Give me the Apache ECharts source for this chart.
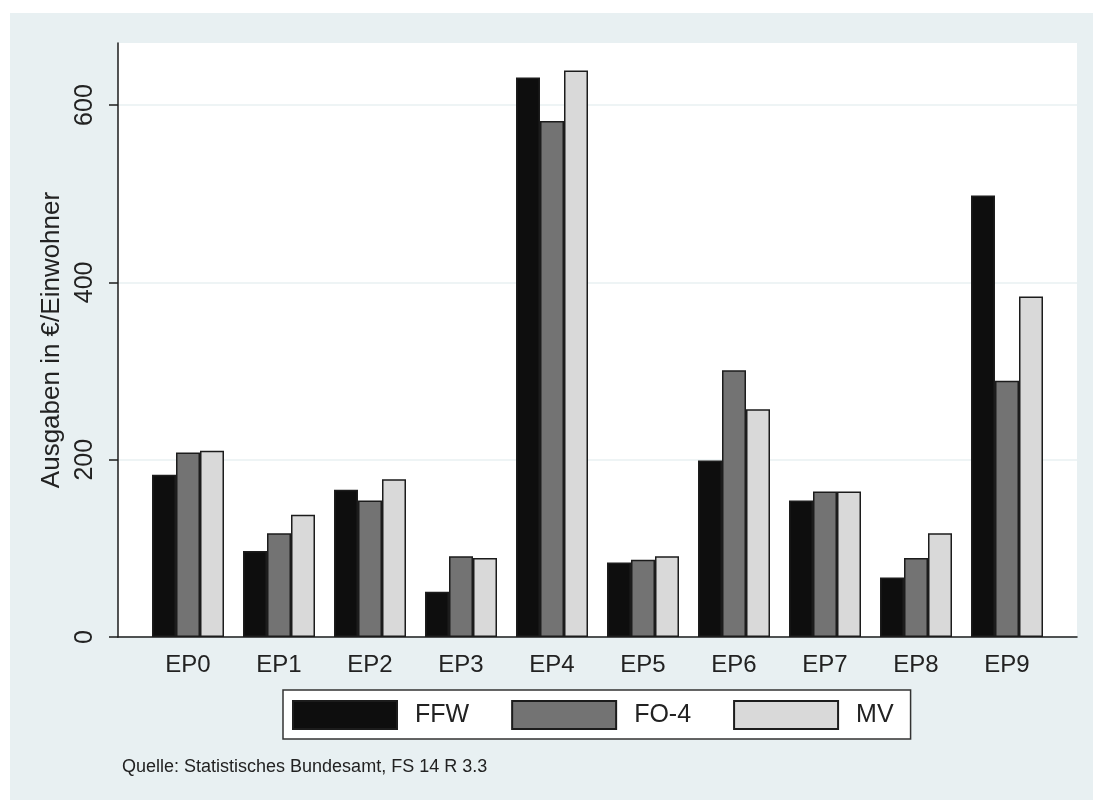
<!DOCTYPE html>
<html>
<head>
<meta charset="utf-8">
<script src="https://cdn.jsdelivr.net/npm/echarts@6/dist/echarts.min.js"></script>
<style>
html,body{margin:0;padding:0;background:#fff;}
#bg{position:absolute;left:10px;top:13px;width:1083px;height:787px;background:#e8f0f2;}
#c{position:absolute;left:0;top:0;width:1093px;height:800px;}
</style>
</head>
<body>
<div id="bg"></div>
<div id="c"></div>
<script>
const categories = ['EP0','EP1','EP2','EP3','EP4','EP5','EP6','EP7','EP8','EP9'];
const ffw  = [183, 97, 166, 51, 631, 84, 199, 154, 67, 498];
const fo4  = [208, 117, 154, 91, 582, 87, 301, 164, 89, 289];
const mv   = [210, 138, 178, 89, 639, 91, 257, 164, 117, 384];
const yTicks = [0, 200, 400, 600];
const seriesNames = ['FFW', 'FO-4', 'MV'];
const yTitle = 'Ausgaben in €/Einwohner';
const sourceNote = 'Quelle: Statistisches Bundesamt, FS 14 R 3.3';

const FONT = 'Liberation Sans, Arial, sans-serif';
const TXT = '#222';
const fills = ['#0e0e0e', '#737373', '#d9d9d9'];
const chart = echarts.init(document.getElementById('c'), null, {renderer: 'canvas'});

function bar(name, data, i) {
  return {
    name: name, type: 'bar', xAxisIndex: 1, yAxisIndex: 1, data: data,
    barWidth: 24, barGap: '0%',
    itemStyle: {color: fills[i], borderColor: '#1c1c1c', borderWidth: 1.5},
    emphasis: {disabled: true}
  };
}

chart.setOption({
  backgroundColor: 'transparent',
  animation: false,
  textStyle: {fontFamily: FONT},
  grid: [
    {left: 118, top: 43, width: 959, height: 594, show: true, backgroundColor: '#fff', borderWidth: 0},
    {left: 142.5, top: 43, width: 910, height: 594}
  ],
  xAxis: [
    {type: 'value', gridIndex: 0, min: 0, max: 1, show: true,
     axisLine: {show: true, onZero: false, lineStyle: {color: '#1c1c1c', width: 1.5}},
     axisTick: {show: false}, axisLabel: {show: false}, splitLine: {show: false}},
    {type: 'category', gridIndex: 1, data: categories,
     axisLine: {show: false}, axisTick: {show: false}, splitLine: {show: false},
     axisLabel: {fontSize: 24, color: TXT, margin: 16, fontFamily: FONT}}
  ],
  yAxis: [
    {type: 'value', gridIndex: 0, min: 0, max: 670, interval: 200,
     name: yTitle, nameLocation: 'middle', nameGap: 50, nameRotate: 90,
     nameTextStyle: {fontSize: 26, color: TXT, fontFamily: FONT},
     axisLine: {show: true, lineStyle: {color: '#1c1c1c', width: 1.5}},
     axisTick: {show: true, length: 9, lineStyle: {color: '#1c1c1c', width: 1.5}, customValues: yTicks},
     axisLabel: {rotate: 90, fontSize: 25, color: TXT, margin: 20, customValues: yTicks, fontFamily: FONT},
     splitLine: {show: true, lineStyle: {color: '#e8f0f2', width: 1.5}}},
    {type: 'value', gridIndex: 1, min: 0, max: 670, show: false, splitLine: {show: false}}
  ],
  legend: {
    data: seriesNames, left: 283, top: 690,
    orient: 'horizontal',
    backgroundColor: '#fff', borderColor: '#333', borderWidth: 1.5,
    padding: [10, 17, 9, 9],
    itemWidth: 104, itemHeight: 28, itemGap: 42,
    icon: 'rect',
    textStyle: {fontSize: 25, color: TXT, fontFamily: FONT, padding: [0, 0, 0, 13]},
    selectedMode: false
  },
  graphic: [
    {type: 'text', left: 122, top: 758,
     style: {text: sourceNote, fontSize: 18, fill: TXT, fontFamily: FONT}}
  ],
  series: [bar(seriesNames[0], ffw, 0), bar(seriesNames[1], fo4, 1), bar(seriesNames[2], mv, 2)]
});
</script>
</body>
</html>
